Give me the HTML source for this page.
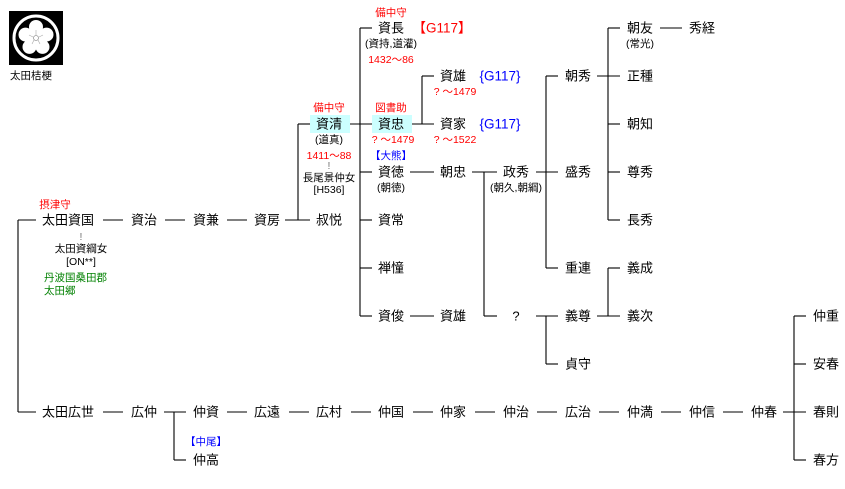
<!DOCTYPE html>
<html><head><meta charset="utf-8"><style>
html,body{margin:0;padding:0;background:#fff;}
svg{display:block;}
text{font-family:"Liberation Sans","Noto Sans CJK JP",sans-serif;font-size:13px;fill:#000;text-anchor:middle;dominant-baseline:central;}
.s{font-size:10.5px;}
.r{fill:#f00;}
.b{fill:#00f;}
.g{fill:#008000;}
line{stroke:#000;stroke-width:1.1;}
</style></head><body>
<svg width="845" height="489" viewBox="0 0 845 489" xmlns="http://www.w3.org/2000/svg">
<!-- logo -->
<rect x="9" y="11" width="54" height="54" fill="#000"/>
<circle cx="36" cy="38" r="22" fill="none" stroke="#fff" stroke-width="3"/>
<g fill="#fff">
<circle cx="36" cy="27" r="7"/><circle cx="46.5" cy="34.6" r="7"/><circle cx="42.5" cy="46.9" r="7"/><circle cx="29.5" cy="46.9" r="7"/><circle cx="25.5" cy="34.6" r="7"/>
<circle cx="36" cy="38" r="8"/>
</g>
<circle cx="36" cy="38" r="2.5" fill="none" stroke="#999" stroke-width="0.8"/>
<g stroke="#aaa" stroke-width="0.6">
<line x1="36" y1="35" x2="36" y2="30" style="stroke:#aaa;stroke-width:0.6"/>
<line x1="39" y1="37" x2="43" y2="35" style="stroke:#aaa;stroke-width:0.6"/>
<line x1="33" y1="37" x2="29" y2="35" style="stroke:#aaa;stroke-width:0.6"/>
<line x1="38" y1="40" x2="40" y2="44" style="stroke:#aaa;stroke-width:0.6"/>
<line x1="34" y1="40" x2="32" y2="44" style="stroke:#aaa;stroke-width:0.6"/>
</g>
<text x="10" y="76" class="s" style="text-anchor:start">太田桔梗</text>

<!-- lines -->
<g>
<line x1="18" y1="220" x2="18" y2="412"/><line x1="18" y1="220" x2="36" y2="220"/><line x1="18" y1="412" x2="36" y2="412"/>
<line x1="103" y1="220" x2="123" y2="220"/><line x1="165" y1="220" x2="185" y2="220"/><line x1="227" y1="220" x2="247" y2="220"/>
<line x1="285" y1="220" x2="310" y2="220"/><line x1="298" y1="124" x2="298" y2="220"/><line x1="298" y1="124" x2="310" y2="124"/>
<line x1="350" y1="124" x2="372" y2="124"/>
<line x1="360" y1="28" x2="360" y2="316"/>
<line x1="360" y1="28" x2="372" y2="28"/><line x1="360" y1="172" x2="372" y2="172"/><line x1="360" y1="220" x2="372" y2="220"/><line x1="360" y1="268" x2="372" y2="268"/><line x1="360" y1="316" x2="372" y2="316"/>
<line x1="412" y1="124" x2="434" y2="124"/><line x1="422" y1="76" x2="422" y2="124"/><line x1="422" y1="76" x2="434" y2="76"/>
<line x1="410" y1="172" x2="434" y2="172"/><line x1="410" y1="316" x2="434" y2="316"/>
<line x1="472" y1="172" x2="497" y2="172"/><line x1="484" y1="172" x2="484" y2="316"/><line x1="484" y1="316" x2="497" y2="316"/>
<line x1="536" y1="172" x2="558" y2="172"/><line x1="546" y1="76" x2="546" y2="268"/><line x1="546" y1="76" x2="558" y2="76"/><line x1="546" y1="268" x2="558" y2="268"/>
<line x1="536" y1="316" x2="558" y2="316"/><line x1="546" y1="316" x2="546" y2="364"/><line x1="546" y1="364" x2="558" y2="364"/>
<line x1="597" y1="76" x2="620" y2="76"/><line x1="608" y1="28" x2="608" y2="220"/>
<line x1="608" y1="28" x2="620" y2="28"/><line x1="608" y1="124" x2="620" y2="124"/><line x1="608" y1="172" x2="620" y2="172"/><line x1="608" y1="220" x2="620" y2="220"/>
<line x1="660" y1="28" x2="682" y2="28"/>
<line x1="597" y1="316" x2="620" y2="316"/><line x1="608" y1="268" x2="608" y2="316"/><line x1="608" y1="268" x2="620" y2="268"/>
<line x1="103" y1="412" x2="123" y2="412"/><line x1="164" y1="412" x2="186" y2="412"/><line x1="174" y1="412" x2="174" y2="460"/><line x1="174" y1="460" x2="186" y2="460"/>
<line x1="227" y1="412" x2="247" y2="412"/><line x1="289" y1="412" x2="309" y2="412"/><line x1="351" y1="412" x2="371" y2="412"/><line x1="413" y1="412" x2="433" y2="412"/><line x1="475" y1="412" x2="495" y2="412"/><line x1="537" y1="412" x2="557" y2="412"/><line x1="599" y1="412" x2="619" y2="412"/><line x1="661" y1="412" x2="681" y2="412"/><line x1="723" y1="412" x2="743" y2="412"/>
<line x1="783" y1="412" x2="806" y2="412"/><line x1="794" y1="316" x2="794" y2="460"/><line x1="794" y1="316" x2="806" y2="316"/><line x1="794" y1="364" x2="806" y2="364"/><line x1="794" y1="460" x2="806" y2="460"/>
</g>

<!-- boxes -->
<rect x="310" y="115" width="40" height="18" fill="#ccffff"/>
<rect x="372" y="115" width="40" height="18" fill="#ccffff"/>

<!-- names -->
<text x="68" y="220">太田資国</text><text x="144" y="220">資治</text><text x="206" y="220">資兼</text><text x="267" y="220">資房</text><text x="329" y="220">叔悦</text>
<text x="329" y="124">資清</text><text x="391" y="124">資忠</text>
<text x="391" y="28">資長</text><text x="391" y="172">資徳</text><text x="391" y="220">資常</text><text x="391" y="268">禅憧</text><text x="391" y="316">資俊</text>
<text x="453" y="76">資雄</text><text x="453" y="124">資家</text><text x="453" y="172">朝忠</text><text x="453" y="316">資雄</text>
<text x="516" y="172">政秀</text><text x="516" y="316">?</text>
<text x="578" y="76">朝秀</text><text x="578" y="172">盛秀</text><text x="578" y="268">重連</text><text x="578" y="316">義尊</text><text x="578" y="364">貞守</text>
<text x="640" y="28">朝友</text><text x="640" y="76">正種</text><text x="640" y="124">朝知</text><text x="640" y="172">尊秀</text><text x="640" y="220">長秀</text><text x="640" y="268">義成</text><text x="640" y="316">義次</text>
<text x="702" y="28">秀経</text>
<text x="68" y="412">太田広世</text><text x="144" y="412">広仲</text><text x="206" y="412">仲資</text><text x="206" y="460">仲高</text><text x="267" y="412">広遠</text><text x="329" y="412">広村</text><text x="391" y="412">仲国</text><text x="453" y="412">仲家</text><text x="516" y="412">仲治</text><text x="578" y="412">広治</text><text x="640" y="412">仲満</text><text x="702" y="412">仲信</text><text x="764" y="412">仲春</text>
<text x="826" y="316">仲重</text><text x="826" y="364">安春</text><text x="826" y="412">春則</text><text x="826" y="460">春方</text>

<!-- annotations -->
<text x="55" y="205" class="s r">摂津守</text>
<text x="81" y="237" class="s" style="fill:#777">!</text>
<text x="81" y="249" class="s">太田資綱女</text>
<text x="81" y="262" class="s">[ON**]</text>
<text x="44" y="278" class="s g" style="text-anchor:start">丹波国桑田郡</text>
<text x="44" y="291" class="s g" style="text-anchor:start">太田郷</text>

<text x="391" y="13" class="s r">備中守</text>
<text x="442" y="28" class="r" style="font-size:13.5px">【G117】</text>
<text x="391" y="44" class="s">(資持,道灌)</text>
<text x="391" y="60" class="s r">1432〜86</text>
<text x="500" y="76" class="b" style="font-size:13.5px">{G117}</text>
<text x="455" y="92" class="s r">?  〜1479</text>
<text x="500" y="124" class="b" style="font-size:13.5px">{G117}</text>
<text x="455" y="140" class="s r">?  〜1522</text>
<text x="329" y="108" class="s r">備中守</text>
<text x="391" y="108" class="s r">図書助</text>
<text x="329" y="140" class="s">(道真)</text>
<text x="393" y="140" class="s r">?  〜1479</text>
<text x="329" y="156" class="s r">1411〜88</text>
<text x="329" y="166" class="s" style="fill:#777">!</text>
<text x="329" y="178" class="s">長尾景仲女</text>
<text x="329" y="190" class="s">[H536]</text>
<text x="391" y="156" class="s b">【大熊】</text>
<text x="391" y="188" class="s">(朝徳)</text>
<text x="516" y="188" class="s">(朝久,朝綱)</text>
<text x="640" y="44" class="s">(常光)</text>
<text x="206" y="442" class="s b">【中尾】</text>
</svg>
</body></html>
